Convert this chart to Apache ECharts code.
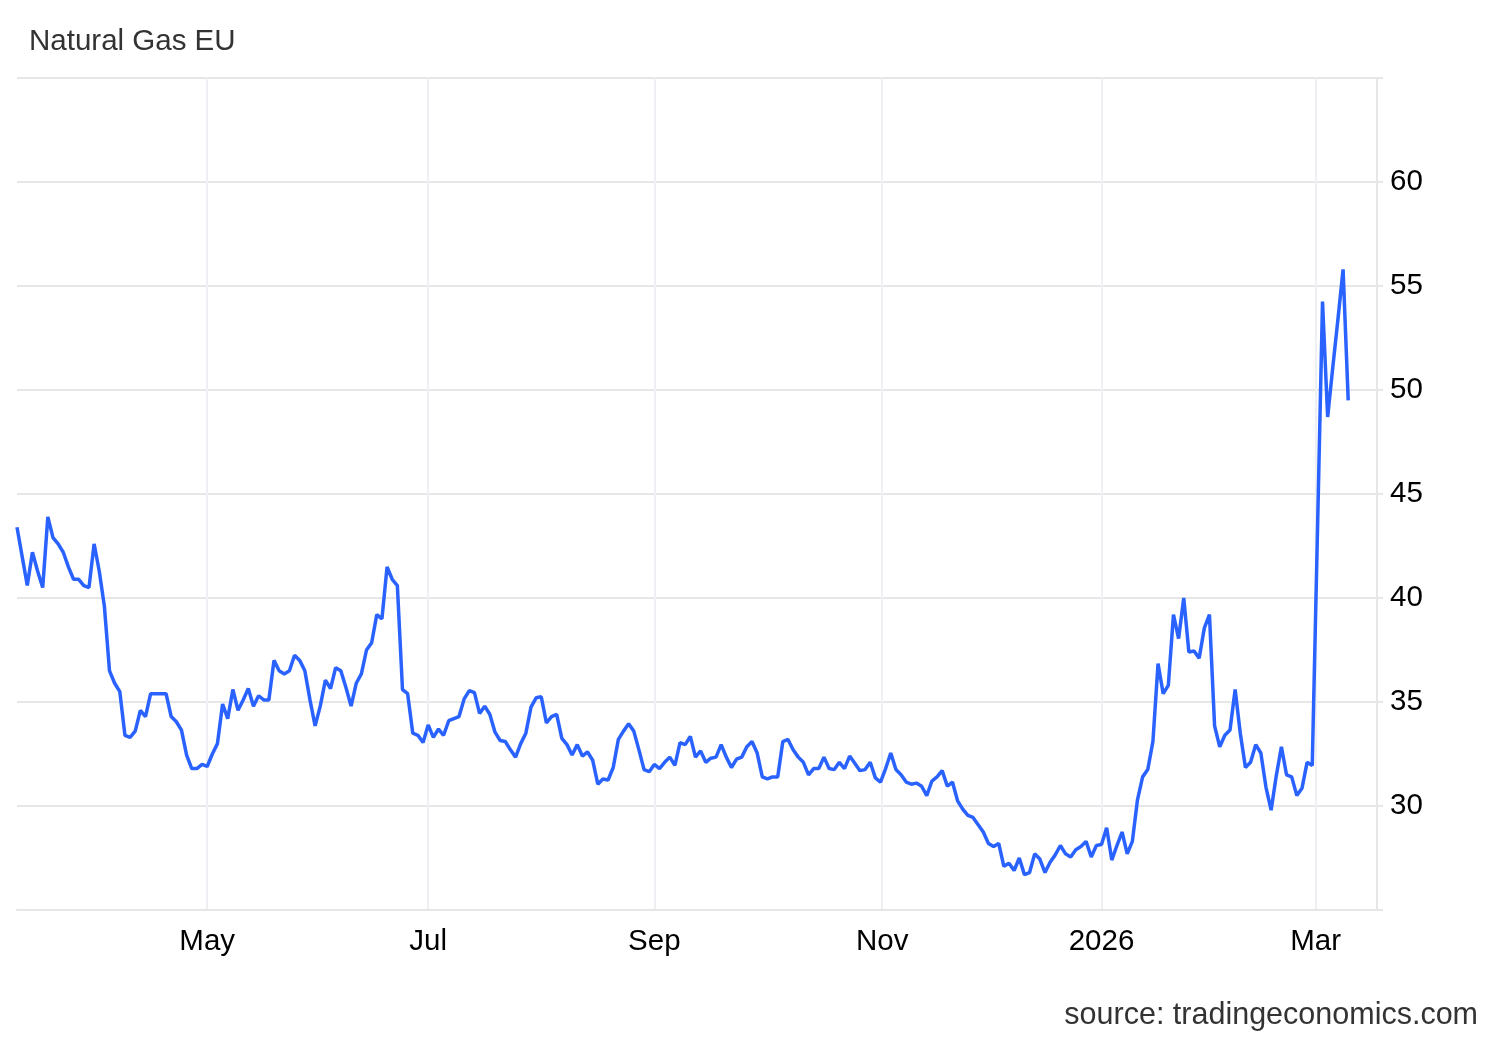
<!DOCTYPE html>
<html>
<head>
<meta charset="utf-8">
<script src="https://cdn.jsdelivr.net/npm/echarts@6/dist/echarts.min.js"></script>
<style>
html,body{margin:0;padding:0;background:#fff;}
#chart{width:1500px;height:1040px;}
</style>
</head>
<body>
<div id="chart"></div>
<script>
// Trading calendar (weekdays)
const startDate = '2025-03-11';
const endDate = '2026-03-10';
const holidays = ['2025-12-25'];

// Daily closing values (EUR/MWh), one per trading day
const values = [
  43.4, 42.0, 40.6, 42.2, 41.3, 40.5, 43.9, 42.9, 42.6, 42.2,
  41.5, 40.9, 40.9, 40.6, 40.5, 42.6, 41.3, 39.6, 36.5, 35.9,
  35.5, 33.4, 33.3, 33.6, 34.6, 34.3, 35.4, 35.4, 35.4, 35.4,
  34.3, 34.05, 33.65, 32.45, 31.8, 31.8, 32.0, 31.9, 32.5, 33.0,
  34.9, 34.2, 35.6, 34.6, 35.1, 35.65, 34.8, 35.3, 35.1, 35.1,
  37.0, 36.5, 36.35, 36.5, 37.25, 37.0, 36.5, 35.1, 33.85, 34.8,
  36.05, 35.65, 36.65, 36.5, 35.7, 34.8, 35.9, 36.35, 37.5, 37.85,
  39.2, 39.0, 41.5, 40.9, 40.6, 35.6, 35.4, 33.5, 33.4, 33.05,
  33.9, 33.3, 33.7, 33.4, 34.1, 34.2, 34.3, 35.15, 35.55, 35.45,
  34.45, 34.8, 34.4, 33.55, 33.15, 33.1, 32.7, 32.35, 33.0, 33.5,
  34.75, 35.2, 35.25, 34.0, 34.3, 34.4, 33.25, 32.95, 32.45, 32.95,
  32.4, 32.6, 32.2, 31.05, 31.3, 31.25, 31.85, 33.2, 33.6, 33.95,
  33.6, 32.7, 31.75, 31.65, 32.0, 31.8, 32.1, 32.35, 31.95, 33.05,
  32.95, 33.35, 32.35, 32.65, 32.1, 32.3, 32.35, 32.95, 32.35, 31.85,
  32.25, 32.35, 32.85, 33.1, 32.55, 31.4, 31.3, 31.4, 31.4, 33.1,
  33.2, 32.7, 32.35, 32.1, 31.5, 31.8, 31.8, 32.35, 31.8, 31.75,
  32.1, 31.8, 32.4, 32.05, 31.7, 31.75, 32.1, 31.35, 31.15, 31.8,
  32.55, 31.75, 31.5, 31.15, 31.05, 31.1, 30.95, 30.5, 31.2, 31.4,
  31.7, 30.95, 31.15, 30.25, 29.85, 29.55, 29.45, 29.1, 28.75, 28.2,
  28.05, 28.2, 27.1, 27.25, 26.9, 27.5, 26.7, 26.8, 27.7, 27.45,
  26.8, 27.3, 27.65, 28.1, 27.7, 27.55, 27.9, 28.05, 28.3, 27.55,
  28.1, 28.15, 28.95, 27.4, 28.1, 28.75, 27.7, 28.3, 30.3, 31.4,
  31.75, 33.1, 36.85, 35.4, 35.8, 39.2, 38.05, 40.0, 37.4, 37.45,
  37.1, 38.55, 39.2, 33.85, 32.85, 33.4, 33.65, 35.6, 33.5, 31.85,
  32.1, 32.95, 32.55, 30.9, 29.8, 31.45, 32.85, 31.5, 31.4, 30.5,
  30.85, 32.1, 31.95, 43.0, 54.25, 48.7, 51.1, 53.4, 55.8, 49.5
];

const monthTicks = [
  ['2025-05-01', 'May'],
  ['2025-07-01', 'Jul'],
  ['2025-09-01', 'Sep'],
  ['2025-11-01', 'Nov'],
  ['2026-01-01', '2026'],
  ['2026-03-01', 'Mar']
];
const yTicks = [30, 35, 40, 45, 50, 55, 60];

// ---- build trading-day list ----
function dayNum(s) { const p = s.split('-').map(Number); return Date.UTC(p[0], p[1] - 1, p[2]) / 864e5; }
function fmt(dn) { const d = new Date(dn * 864e5); return d.toISOString().slice(0, 10); }
const holidaySet = new Set(holidays);
const dates = [];
for (let dn = dayNum(startDate); dn <= dayNum(endDate); dn++) {
  const wd = new Date(dn * 864e5).getUTCDay();
  const s = fmt(dn);
  if (wd === 0 || wd === 6 || holidaySet.has(s)) continue;
  dates.push(s);
}
const dayNums = dates.map(dayNum);
// ordinal (trading-day) position of a calendar date
function ordinalPos(s) {
  const t = dayNum(s);
  for (let i = 0; i < dayNums.length; i++) {
    if (dayNums[i] === t) return i;
    if (dayNums[i] > t) return i - 1 + (t - dayNums[i - 1]) / (dayNums[i] - dayNums[i - 1]);
  }
  return dayNums.length - 1;
}
const tickPos = monthTicks.map(m => ordinalPos(m[0]));
function tickLabel(v) {
  for (let k = 0; k < tickPos.length; k++) if (Math.abs(tickPos[k] - v) < 1e-6) return monthTicks[k][1];
  return '';
}
const seriesData = values.map((v, i) => [i, v]);

const FONT = '"Liberation Sans", Arial, Helvetica, sans-serif';
const chart = echarts.init(document.getElementById('chart'), null, { renderer: 'canvas' });
chart.setOption({
  animation: false,
  backgroundColor: '#ffffff',
  title: {
    text: 'Natural Gas EU',
    left: 29, top: 27, padding: 0,
    textStyle: { fontFamily: FONT, fontSize: 29.5, fontWeight: 'normal', color: '#333333' }
  },
  graphic: [{
    type: 'text', right: 22, top: 1000,
    style: { text: 'source: tradingeconomics.com', font: '30.5px ' + FONT, fill: '#333333' }
  }],
  grid: { left: 17, right: 123, top: 78, bottom: 130 },
  xAxis: {
    type: 'value',
    min: 0,
    max: dates.length - 1 + 5.6,
    axisLine: { show: true, onZero: false, lineStyle: { color: '#e6e6e6', width: 2 } },
    axisTick: { show: false, customValues: tickPos },
    axisLabel: {
      customValues: tickPos,
      formatter: tickLabel,
      margin: 17,
      fontFamily: FONT, fontSize: 29.5, color: '#000000'
    },
    splitLine: { show: true, lineStyle: { color: '#eef0f4', width: 2 } }
  },
  yAxis: {
    type: 'value',
    position: 'right',
    min: 25, max: 65, interval: 5,
    axisLine: { show: true, onZero: false, lineStyle: { color: '#e6e6e6', width: 2 } },
    axisTick: { show: true, length: 6, lineStyle: { color: '#e6e6e6', width: 2 } },
    axisLabel: {
      margin: 13,
      fontFamily: FONT, fontSize: 29.5, color: '#000000',
      formatter: v => (yTicks.indexOf(v) >= 0 ? String(v) : '')
    },
    splitLine: { show: true, lineStyle: { color: '#e6e6e6', width: 2 } }
  },
  series: [{
    type: 'line',
    data: seriesData,
    showSymbol: false,
    lineStyle: { color: '#2962ff', width: 3.5 },
    itemStyle: { color: '#2962ff' }
  }]
});
</script>
</body>
</html>
